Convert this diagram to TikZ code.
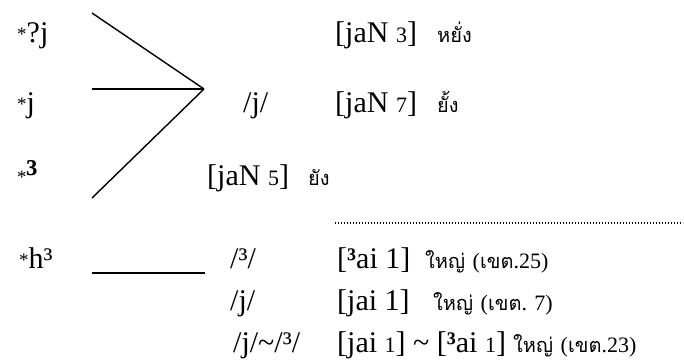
\documentclass[tikz,border=0pt]{standalone}
\usepackage{fontspec}
\setmainfont{Liberation Serif}
\newfontfamily\thaifont[Script=Thai]{Loma}
\usetikzlibrary{positioning}

\newcommand{\tw}[1]{{\thaifont\fontsize{20}{20}\selectfont #1}}
\newcommand{\tn}[1]{{\fontsize{22}{22}\selectfont #1}}
\newcommand{\rec}{\raisebox{2pt}{\fontsize{19}{19}\selectfont *}}

\begin{document}
\begin{tikzpicture}[x=1pt, y=-1pt,
    txt/.style={anchor=base west, inner sep=0pt, font=\fontsize{30}{36}\selectfont},
    link/.style={line width=1.4pt}]
    \useasboundingbox (0,0) rectangle (684,360);
    % proto forms
    \node[txt] (pglj) at (17,42) {\rec ?j};
    \node[txt] (pj) at (17,112) {\rec j};
    \node[txt] (pgl) at (17,185) {\rec{\fontsize{38}{38}\selectfont\bfseries ³}};
    \node[txt] (phgl) at (19,268) {\rec h³};
    % branches
    \coordinate (join) at (204,89);
    \coordinate (top) at (92,13);
    \coordinate (mid) at (92,89);
    \coordinate (bot) at (92,198);
    \coordinate (hl) at (92,273);
    \coordinate (hr) at (205,273);
    \draw[link] (top) -- (join);
    \draw[link] (mid) -- (join);
    \draw[link] (bot) -- (join);
    \draw[link] (hl) -- (hr);
    % reflexes
    \node[txt] (phj) at (243,112) {/j/};
    \node[txt] (jan3) at (335,42) {[jaN \tn{3}]};
    \node[txt] (yang3) at (437,42) {\tw{หยั่ง}};
    \node[txt] (jan7) at (335,112) {[jaN \tn{7}]};
    \node[txt] (yang7) at (437,112) {\tw{ยั้ง}};
    \node[txt] (jan5) at (207,185) {[jaN \tn{5}]};
    \node[txt] (yang5) at (308,185) {\tw{ยัง}};
    \coordinate (dl) at (335,223);
    \coordinate (dr) at (683,223);
    \draw[line width=1.3pt, dash pattern=on 1.3pt off 1.7pt] (dl) -- (dr);
    \node[txt] (phgl2) at (230,268) {/³/};
    \node[txt] (phj2) at (230,310) {/j/};
    \node[txt] (phjgl) at (233,352) {/j/\textasciitilde/³/};
    \node[txt] (ai25) at (337,268) {[\textbf{³}ai 1]};
    \node[txt] (yai25) at (425,268) {\tw{ใหญ่} \tn{(}\tw{เขต}\tn{.25)}};
    \node[txt] (jai7) at (337,310) {[jai 1]};
    \node[txt] (yai7) at (433,310) {\tw{ใหญ่} \tn{(}\tw{เขต}\tn{. 7)}};
    \node[txt] (jai23) at (337,352) {[jai \tn{1}] \textasciitilde{} [\textbf{³}ai \tn{1}]};
    \node[txt] (yai23) at (513,352) {\tw{ใหญ่} \tn{(}\tw{เขต}\tn{.23)}};
\end{tikzpicture}
\end{document}
